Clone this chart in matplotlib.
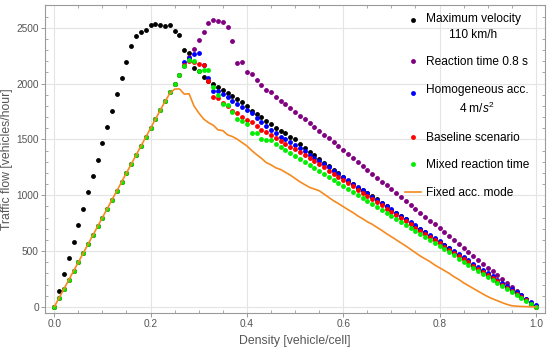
import numpy as np
import matplotlib
matplotlib.use("Agg")
import matplotlib.pyplot as plt
from matplotlib.ticker import MultipleLocator, NullFormatter
from matplotlib.legend_handler import HandlerLine2D

# ── data ─────────────────────────────────────────────────────────────────────
density = np.round(np.arange(101) * 0.01, 2)

flow_vmax = [
    0, 146, 295, 440, 585, 734, 880, 1027, 1173, 1318, 1465,
    1611, 1757, 1904, 2050, 2193, 2337, 2426, 2465, 2482, 2520,
    2537, 2527, 2511, 2522, 2466, 2436, 2300, 2272, 2142, 2113,
    2060, 2025, 1992, 1970, 1938, 1919, 1886, 1865, 1833, 1795,
    1757, 1725, 1697, 1668, 1636, 1603, 1578, 1555, 1525, 1500,
    1462, 1425, 1390, 1356, 1322, 1290, 1262, 1228, 1197, 1163,
    1131, 1100, 1068, 1043, 1018, 990, 964, 930, 900, 871,
    842, 813, 784, 755, 726, 697, 668, 639, 610, 581,
    552, 523, 494, 465, 436, 407, 378, 349, 320, 291,
    262, 233, 204, 175, 146, 117, 88, 59, 30, 0,
]

# shared free-flow branch of the slower scenarios (density 0.00 - 0.25)
rise_slow = [0, 80, 160, 240, 320, 400, 480, 560, 640, 720, 800, 880, 960,
             1040, 1120, 1200, 1280, 1360, 1440, 1520, 1600, 1680, 1760,
             1840, 1920, 1998]

tail_react = [
    2077, 2160, 2235, 2310, 2390,
    2462, 2540, 2572, 2563, 2548, 2510, 2381, 2187, 2193, 2107,
    2088, 2032, 1990, 1945, 1920, 1883, 1847, 1817, 1784, 1746,
    1706, 1680, 1648, 1612, 1578, 1541, 1508, 1472, 1438, 1402,
    1368, 1332, 1298, 1262, 1228, 1192, 1158, 1122, 1088, 1052,
    1018, 982, 948, 912, 878, 842, 808, 772, 738, 702,
    668, 632, 598, 562, 528, 492, 458, 422, 388, 352,
    318, 282, 248, 212, 178, 142, 108, 72, 38, 2,
]

tail_homog = [
    2080, 2190, 2225, 2262, 2272,
    2170, 2045, 1935, 1930, 1902, 1875, 1845, 1818, 1790, 1762,
    1734, 1692, 1655, 1620, 1588, 1556, 1525, 1500, 1475, 1448,
    1420, 1392, 1363, 1335, 1306, 1277, 1248, 1219, 1190, 1161,
    1132, 1103, 1074, 1045, 1016, 987, 958, 929, 900, 872,
    843, 815, 786, 758, 729, 701, 672, 644, 615, 587,
    558, 530, 501, 473, 444, 416, 387, 359, 330, 302,
    273, 245, 216, 188, 159, 131, 102, 74, 45, 17,
]

tail_base = [
    2078, 2165, 2200, 2195, 2172,
    2165, 2022, 1883, 1870, 1822, 1800, 1752, 1734, 1703, 1671,
    1657, 1617, 1588, 1565, 1540, 1515, 1489, 1462, 1435, 1412,
    1390, 1362, 1333, 1305, 1277, 1248, 1220, 1192, 1163, 1135,
    1107, 1078, 1050, 1022, 993, 965, 937, 908, 880, 852,
    823, 795, 767, 738, 710, 682, 653, 625, 597, 568,
    540, 512, 483, 455, 427, 398, 370, 342, 313, 285,
    257, 228, 200, 172, 143, 115, 87, 58, 30, 2,
]

tail_mixed = [
    2075, 2160, 2210, 2200, 2110,
    2120, 2125, 1965, 1895, 1820, 1812, 1745, 1683, 1660, 1640,
    1555, 1560, 1500, 1497, 1490, 1462, 1432, 1405, 1378, 1351,
    1324, 1297, 1270, 1243, 1216, 1189, 1162, 1135, 1108, 1081,
    1054, 1027, 1000, 973, 946, 919, 892, 865, 838, 811,
    784, 757, 730, 703, 676, 649, 622, 595, 568, 541,
    514, 487, 460, 433, 406, 379, 352, 325, 298, 271,
    244, 217, 190, 163, 136, 109, 82, 55, 28, 1,
]

flow_fixed = [
    0, 80, 160, 240, 320, 400, 480, 560, 640, 720, 800, 880, 960,
    1040, 1120, 1200, 1280, 1360, 1440, 1520, 1600, 1680, 1760, 1840, 1912,
    1950, 1952, 1905, 1908, 1800, 1737,
    1683, 1650, 1627, 1585, 1578, 1540, 1525, 1501, 1471, 1441,
    1400, 1364, 1331, 1292, 1272, 1245, 1230, 1205, 1180, 1150,
    1120, 1095, 1070, 1055, 1040, 1010, 980, 950, 925, 898,
    870, 845, 815, 790, 762, 740, 712, 685, 655, 628,
    600, 572, 545, 515, 485, 455, 430, 405, 375, 350,
    325, 300, 270, 245, 215, 190, 165, 140, 115, 92,
    72, 55, 38, 22, 10, 6, 4, 2, 1, 0,
]

flow_react = rise_slow + tail_react
flow_homog = rise_slow + tail_homog
flow_base = rise_slow + tail_base
flow_mixed = rise_slow + tail_mixed


class TopLineHandler(HandlerLine2D):
    """Put the legend marker next to the first line of a two-line label."""
    def create_artists(self, legend, orig_handle, xdescent, ydescent,
                       width, height, fontsize, trans):
        return super().create_artists(legend, orig_handle, xdescent,
                                      ydescent - 10.5, width, height,
                                      fontsize, trans)


# ── style ────────────────────────────────────────────────────────────────────
CLR_FRAME = "#9a9a9a"
CLR_TEXT = "#555555"
CLR_GRID = "#e4e4e4"

plt.rcParams.update({
    "font.family": ["Liberation Sans", "DejaVu Sans"],
    "mathtext.fontset": "custom",
    "mathtext.rm": "Liberation Sans",
    "mathtext.it": "Liberation Sans:italic",
    "axes.edgecolor": CLR_FRAME,
    "axes.linewidth": 0.8,
    "xtick.color": CLR_FRAME,
    "ytick.color": CLR_FRAME,
    "xtick.labelcolor": CLR_TEXT,
    "ytick.labelcolor": CLR_TEXT,
})

fig = plt.figure(figsize=(5.5, 3.5), dpi=100)
ax = fig.add_axes([0.082, 0.106, 0.909, 0.880])

ms = 3.5
series = [
    (flow_vmax, "black", "Maximum velocity\n110 km/h"),
    (flow_react, "#800080", "Reaction time 0.8 s"),
    (flow_homog, "#0000ff", "Homogeneous acc.\n4 m/$s^2$"),
    (flow_base, "#ff0000", "Baseline scenario"),
    (flow_mixed, "#00ee00", "Mixed reaction time"),
]
handles = []
for vals, clr, lab in series:
    h, = ax.plot(density, vals, "o", ls="none", color=clr, ms=ms, mew=0, label=lab)
    handles.append(h)

ax.plot(density, flow_fixed, "-", color="#f58a1f", lw=1.2, label="Fixed acc. mode")

ax.set_xlim(-0.019, 1.019)
ax.set_ylim(-54, 2704)

# ticks: labelled major ticks outside on left/bottom, plain ticks inside on top/right
ax.xaxis.set_major_locator(MultipleLocator(0.2))
ax.xaxis.set_minor_locator(MultipleLocator(0.05))
ax.yaxis.set_major_locator(MultipleLocator(500))
ax.yaxis.set_minor_locator(MultipleLocator(100))
ax.xaxis.set_major_formatter(lambda v, pos: f"{v:.1f}")
ax.tick_params(which="major", direction="out", length=3, width=0.7, pad=1.5,
               labelsize=7.3)
ax.tick_params(which="minor", direction="in", length=2.5, width=0.6)

secx = ax.secondary_xaxis("top")
secx.xaxis.set_major_locator(MultipleLocator(0.2))
secx.xaxis.set_minor_locator(MultipleLocator(0.05))
secx.xaxis.set_major_formatter(NullFormatter())
secx.tick_params(which="major", direction="in", length=3.5, width=0.7)
secx.tick_params(which="minor", direction="in", length=2.2, width=0.6)
secx.spines["top"].set_visible(False)

secy = ax.secondary_yaxis("right")
secy.yaxis.set_major_locator(MultipleLocator(500))
secy.yaxis.set_minor_locator(MultipleLocator(100))
secy.yaxis.set_major_formatter(NullFormatter())
secy.tick_params(which="major", direction="in", length=3.5, width=0.7)
secy.tick_params(which="minor", direction="in", length=2.2, width=0.6)
secy.spines["right"].set_visible(False)

ax.grid(True, which="major", color=CLR_GRID, lw=0.8)
ax.set_axisbelow(True)

ax.set_xlabel("Density [vehicle/cell]", fontsize=8.8, color=CLR_TEXT, labelpad=4)
ax.set_ylabel("Traffic flow [vehicles/hour]", fontsize=8.8, color=CLR_TEXT, labelpad=2.5)

leg = ax.legend(loc="upper left", bbox_to_anchor=(0.72, 0.975), frameon=False,
                fontsize=8.6, handlelength=1.3, handletextpad=0.45,
                borderaxespad=0, borderpad=0, labelspacing=1.3,
                handler_map={handles[0]: TopLineHandler(),
                             handles[2]: TopLineHandler()})
for t in leg.get_texts():
    t.set_multialignment("center")
    t.set_linespacing(1.45)

fig.savefig("out.png", dpi=100)
